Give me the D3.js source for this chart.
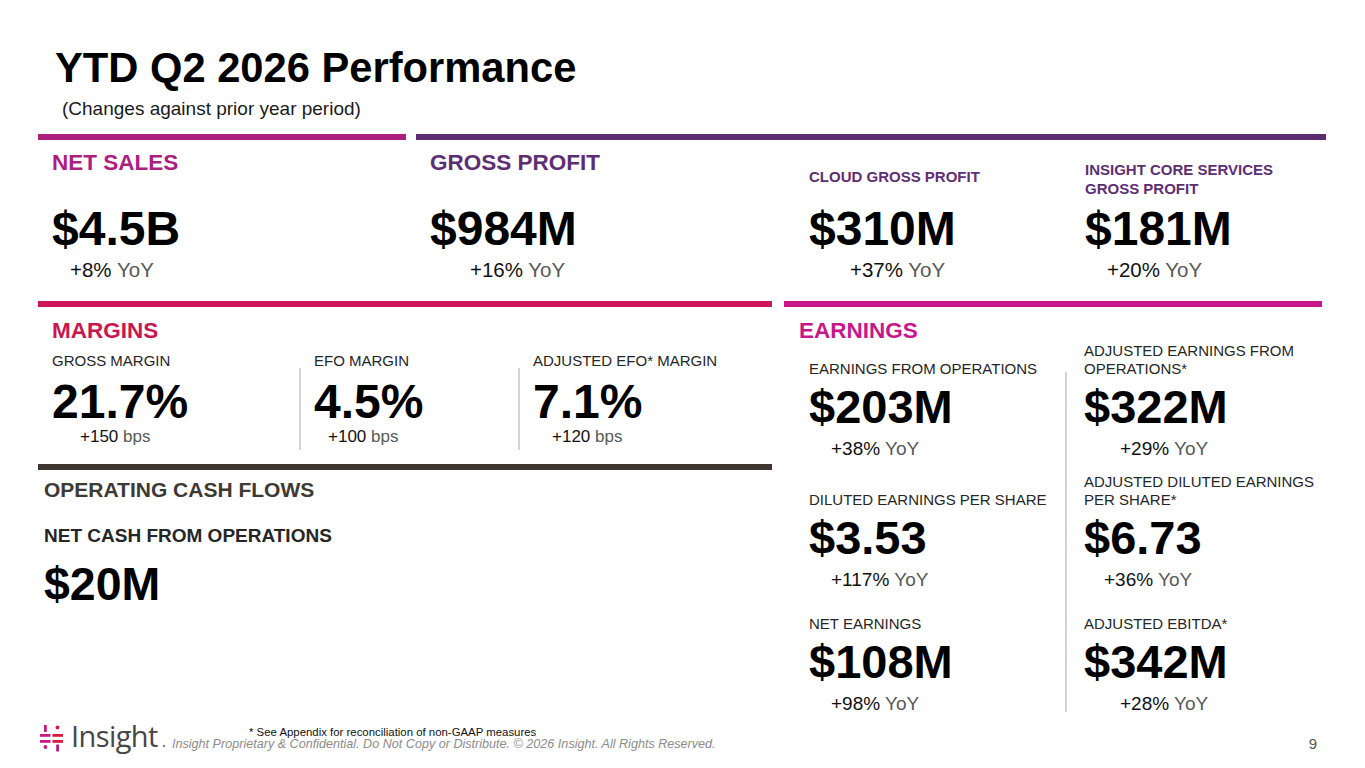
<!DOCTYPE html>
<html>
<head>
<meta charset="utf-8">
<script src="https://cdn.jsdelivr.net/npm/d3@7.9.0/dist/d3.min.js"></script>
<style>
  html, body { margin: 0; padding: 0; background: #fff; }
  svg { display: block; font-family: "Liberation Sans", Arial, sans-serif; }
</style>
</head>
<body>
<div id="slide"></div>
<script>
// --- values ---
const topLabels = [['NET SALES'], ['GROSS PROFIT'], ['CLOUD GROSS PROFIT'], ['INSIGHT CORE SERVICES', 'GROSS PROFIT']];
const topValues = ['$4.5B', '$984M', '$310M', '$181M'];
const topChanges = ['+8%', '+16%', '+37%', '+20%'];

const marginLabels = ['GROSS MARGIN', 'EFO MARGIN', 'ADJUSTED EFO* MARGIN'];
const marginValues = ['21.7%', '4.5%', '7.1%'];
const marginChanges = ['+150', '+100', '+120'];

const earningsLabels = [
  ['EARNINGS FROM OPERATIONS'], ['ADJUSTED EARNINGS FROM', 'OPERATIONS*'],
  ['DILUTED EARNINGS PER SHARE'], ['ADJUSTED DILUTED EARNINGS', 'PER SHARE*'],
  ['NET EARNINGS'], ['ADJUSTED EBITDA*']
];
const earningsValues = ['$203M', '$322M', '$3.53', '$6.73', '$108M', '$342M'];
const earningsChanges = ['+38%', '+29%', '+117%', '+36%', '+98%', '+28%'];

const cashLabel = 'NET CASH FROM OPERATIONS';
const cashValue = '$20M';

// --- layout ---
const width = 1365, height = 768;
const svg = d3.select('#slide').append('svg')
  .attr('width', width).attr('height', height)
  .attr('viewBox', `0 0 ${width} ${height}`);

const colors = {
  'NET SALES': '#ad1f7f',
  'GROSS PROFIT': '#5c2b70',
  'MARGINS': '#d0145a',
  'EARNINGS': '#c8168c',
  'OPERATING CASH FLOWS': '#3e3531'
};
const headColors = {
  'NET SALES': '#ad1f7f',
  'GROSS PROFIT': '#5e2e73',
  'MARGINS': '#c9164f',
  'EARNINGS': '#c8168c',
  'OPERATING CASH FLOWS': '#3d3935'
};

// section rules
const rules = [
  { name: 'NET SALES', x0: 38, x1: 406, y: 134 },
  { name: 'GROSS PROFIT', x0: 416, x1: 1326, y: 134 },
  { name: 'MARGINS', x0: 38, x1: 772, y: 301 },
  { name: 'EARNINGS', x0: 784, x1: 1322, y: 301 },
  { name: 'OPERATING CASH FLOWS', x0: 38, x1: 772, y: 464 }
];
svg.append('g').selectAll('rect')
  .data(rules)
  .join('rect')
  .attr('x', d => d.x0)
  .attr('y', d => d.y)
  .attr('width', d => d.x1 - d.x0)
  .attr('height', 6)
  .attr('fill', d => colors[d.name]);

// title
svg.append('text')
  .attr('x', 55).attr('y', 82)
  .attr('font-size', 41.7).attr('font-weight', 700).attr('fill', '#000')
  .text('YTD Q2 2026 Performance');
svg.append('text')
  .attr('x', 62).attr('y', 115)
  .attr('font-size', 19).attr('fill', '#1a1a1a')
  .text('(Changes against prior year period)');

function changeText(g, x, y, pct, unit, size) {
  const t = g.append('text').attr('x', x).attr('y', y).attr('font-size', size);
  t.append('tspan').attr('fill', '#111').text(pct + ' ');
  t.append('tspan').attr('fill', '#595959').text(unit);
  return t;
}

function multiLine(g, x, y, lines, lh, attrs) {
  const t = g.append('text').attr('x', x).attr('y', y);
  Object.entries(attrs).forEach(([k, v]) => t.attr(k, v));
  lines.forEach((l, i) => t.append('tspan').attr('x', x).attr('dy', i ? lh : 0).text(l));
  return t;
}

// --- top row: sales & gross profit ---
const topX = d3.scaleOrdinal().domain(topValues).range([52, 430, 809, 1085]);
const topChangeX = d3.scaleOrdinal().domain(topChanges).range([70, 470, 850, 1107]);
const topG = svg.append('g');
topLabels.forEach((lab, i) => {
  const big = i < 2;
  const col = i === 0 ? headColors['NET SALES'] : headColors['GROSS PROFIT'];
  const y0 = big ? 170 : (lab.length > 1 ? 175 : 182);
  multiLine(topG, topX(topValues[i]), y0, lab, 19, {
    'font-size': big ? 22.5 : 15, 'font-weight': 700, fill: col
  });
  topG.append('text')
    .attr('x', topX(topValues[i])).attr('y', 245)
    .attr('font-size', 48).attr('font-weight', 700).attr('fill', '#000')
    .text(topValues[i]);
  changeText(topG, topChangeX(topChanges[i]), 277, topChanges[i], 'YoY', 20.5);
});

// --- margins ---
const mg = svg.append('g');
mg.append('text').attr('x', 52).attr('y', 338)
  .attr('font-size', 22.5).attr('font-weight', 700).attr('fill', headColors['MARGINS'])
  .text('MARGINS');
const mX = d3.scaleOrdinal().domain(marginValues).range([52, 314, 533]);
const mChangeX = d3.scaleOrdinal().domain(marginChanges).range([80, 328, 552]);
marginLabels.forEach((lab, i) => {
  const x = mX(marginValues[i]);
  mg.append('text').attr('x', x).attr('y', 366)
    .attr('font-size', 15).attr('fill', '#262626').text(lab);
  mg.append('text').attr('x', x).attr('y', 418)
    .attr('font-size', 48).attr('font-weight', 700).attr('fill', '#000')
    .text(marginValues[i]);
  changeText(mg, mChangeX(marginChanges[i]), 442, marginChanges[i], 'bps', 17);
  if (i > 0) {
    mg.append('line')
      .attr('x1', x - 14).attr('x2', x - 14)
      .attr('y1', 368).attr('y2', 450)
      .attr('stroke', '#d4d4d4').attr('stroke-width', 2);
  }
});

// --- operating cash flows ---
const cf = svg.append('g');
cf.append('text').attr('x', 44).attr('y', 497)
  .attr('font-size', 21).attr('font-weight', 700).attr('fill', headColors['OPERATING CASH FLOWS'])
  .text('OPERATING CASH FLOWS');
cf.append('text').attr('x', 44).attr('y', 542)
  .attr('font-size', 19).attr('font-weight', 700).attr('fill', '#262626')
  .text(cashLabel);
cf.append('text').attr('x', 44).attr('y', 600)
  .attr('font-size', 46.5).attr('font-weight', 700).attr('fill', '#000')
  .text(cashValue);

// --- earnings ---
const eg = svg.append('g');
eg.append('text').attr('x', 799).attr('y', 338)
  .attr('font-size', 22.5).attr('font-weight', 700).attr('fill', headColors['EARNINGS'])
  .text('EARNINGS');
const eCol = d3.scaleOrdinal().domain([0, 1]).range([809, 1084]);
const eRowY = d3.scaleOrdinal().domain([0, 1, 2]).range([423, 554, 678]);
const eChangeX = d3.scaleOrdinal().domain(earningsChanges).range([831, 1120, 831, 1104, 831, 1120]);
earningsLabels.forEach((lab, i) => {
  const c = i % 2, r = Math.floor(i / 2);
  const x = eCol(c), y = eRowY(r);
  multiLine(eg, x, y - 49 - (lab.length - 1) * 18, lab, 18, {
    'font-size': 15, fill: '#262626'
  });
  eg.append('text').attr('x', x).attr('y', y)
    .attr('font-size', 47).attr('font-weight', 700).attr('fill', '#000')
    .text(earningsValues[i]);
  changeText(eg, eChangeX(earningsChanges[i]), y + 32, earningsChanges[i], 'YoY', 19);
});
eg.append('line')
  .attr('x1', 1066).attr('x2', 1066)
  .attr('y1', 372).attr('y2', 712)
  .attr('stroke', '#d4d4d4').attr('stroke-width', 2);

// --- footer ---
const ft = svg.append('g');
// logo mark
const pink = '#c8197f', red = '#d9173f';
const logo = ft.append('g').attr('transform', 'translate(40,724)');
logo.append('rect').attr('x', 4).attr('y', 1).attr('width', 2.8).attr('height', 7).attr('fill', pink);
logo.append('circle').attr('cx', 17.5).attr('cy', 3.5).attr('r', 1.9).attr('fill', red);
logo.append('rect').attr('x', 0).attr('y', 10).attr('width', 10.5).attr('height', 2.8).attr('fill', pink);
logo.append('rect').attr('x', 12.5).attr('y', 10).attr('width', 10.5).attr('height', 2.8).attr('fill', red);
logo.append('rect').attr('x', 0).attr('y', 16).attr('width', 10.5).attr('height', 2.8).attr('fill', pink);
logo.append('rect').attr('x', 12.5).attr('y', 16).attr('width', 10.5).attr('height', 2.8).attr('fill', red);
logo.append('circle').attr('cx', 5.4).attr('cy', 23).attr('r', 1.9).attr('fill', pink);
logo.append('rect').attr('x', 16.2).attr('y', 20.5).attr('width', 2.8).attr('height', 7).attr('fill', '#b8197f');
ft.append('text').attr('x', 71).attr('y', 747)
  .attr('font-family', '"Open Sans", Lato, sans-serif')
  .attr('font-size', 29).attr('font-weight', 500).attr('fill', '#4a4546')
  .attr('letter-spacing', -0.6)
  .text('Insight');
ft.append('circle').attr('cx', 164).attr('cy', 746).attr('r', 1.3).attr('fill', '#8a8a8a');

ft.append('text').attr('x', 249).attr('y', 736)
  .attr('font-size', 11.4).attr('fill', '#111')
  .text('* See Appendix for reconciliation of non-GAAP measures');
ft.append('text').attr('x', 172).attr('y', 748)
  .attr('font-size', 12.6).attr('font-style', 'italic').attr('fill', '#8c8c8c')
  .text('Insight Proprietary & Confidential. Do Not Copy or Distribute. \u00A9 2026 Insight. All Rights Reserved.');
ft.append('text').attr('x', 1317).attr('y', 749)
  .attr('font-size', 15).attr('fill', '#555').attr('text-anchor', 'end')
  .text('9');
</script>
</body>
</html>
